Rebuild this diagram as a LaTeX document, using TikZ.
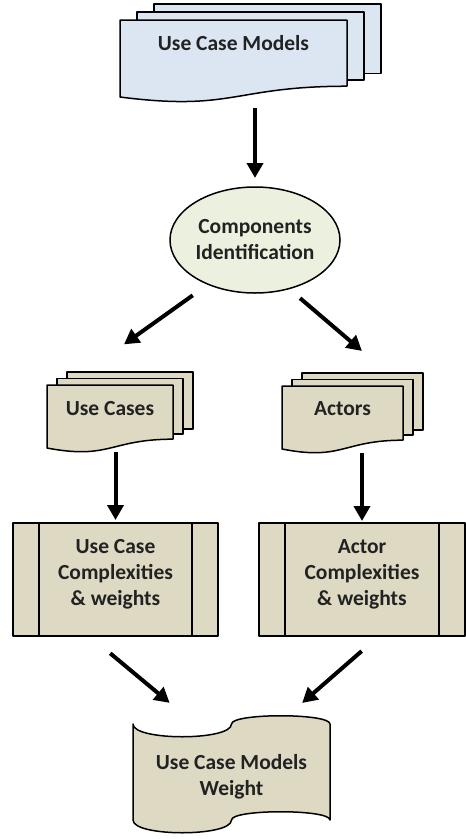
\documentclass[tikz,border=0pt]{standalone}
\usepackage{fontspec}
\setmainfont{Carlito}
\usetikzlibrary{arrows.meta,shapes.geometric,calc,backgrounds}

\definecolor{sheetblue}{HTML}{DCE6F2}
\definecolor{paleolive}{HTML}{EBF1DE}
\definecolor{parchment}{HTML}{DDD9C3}
\definecolor{ink}{HTML}{222222}

\tikzset{
  lbl/.style={font=\bfseries\fontsize{21.5}{26}\selectfont, text=ink, align=center},
  outline/.style={draw=black, line width=1.5pt, line join=round},
  body/.style={inner sep=0pt, outer sep=0pt},
  flow/.style={-{Triangle[length=15pt,width=16pt]}, line width=4pt},
}

% sheet with a wavy lower edge over the box of node #1
\newcommand{\docsheet}[2]{%
  \filldraw[outline, fill=#2] (#1.north west) -- (#1.north east)
    -- ($(#1.north east)!0.86!(#1.south east)$)
    .. controls ($(#1.north)!0.86!(#1.south)$) and ($(#1.north)!1.19!(#1.south)$) .. (#1.south west) -- cycle;}
% two more sheets sticking out behind it
\newcommand{\sheetstack}[4]{%
  \foreach \k in {2,1}
    \filldraw[outline, fill=#2] ([shift={(\k*#3,\k*#4)}]#1.north west)
      rectangle ($(#1.north east)!0.86!(#1.south east)+(\k*#3,\k*0.8*#4)$);
  \docsheet{#1}{#2}}
% punched tape: dip then hump on both long edges
\newcommand{\tapesheet}[2]{%
  \filldraw[outline, fill=#2] (#1.north west)
    .. controls +(0,-17) and ($(#1.north)+(0,-17)$) .. (#1.north)
    .. controls +(0,11) and ($(#1.north east)+(0,11)$) .. (#1.north east)
    -- (#1.south east)
    .. controls +(0,11) and ($(#1.south)+(0,11)$) .. (#1.south)
    .. controls +(0,-17) and ($(#1.south west)+(0,-17)$) .. (#1.south west) -- cycle;}
% side bars of a predefined process box
\newcommand{\sidebars}[1]{%
  \draw[outline] ([xshift=26pt]#1.north west) -- ([xshift=26pt]#1.south west)
                 ([xshift=-26pt]#1.north east) -- ([xshift=-26pt]#1.south east);}

\begin{document}
\begin{tikzpicture}[x=1pt, y=1pt]
\useasboundingbox (0,0) rectangle (466,-839);

\node[body, minimum width=227pt, minimum height=77pt,
      label={[lbl, yshift=15.5pt]center:Use Case Models}] (models) at (233.5,-58.5) {};
\node[body, ellipse, outline, fill=paleolive, minimum width=170pt, minimum height=106pt, lbl]
      (ident) at (255,-240) {Components\\Identification};
\node[body, minimum width=126pt, minimum height=63pt,
      label={[lbl, yshift=8pt]center:Use Cases}] (cases) at (110,-416.5) {};
\node[body, minimum width=121pt, minimum height=63pt,
      label={[lbl, yshift=9pt]center:Actors}] (actors) at (342.5,-417.5) {};
\node[body, outline, fill=parchment, minimum width=205pt, minimum height=113pt,
      label={[lbl, yshift=5.5pt]center:{Use Case\\Complexities\\\& weights}}] (ucw) at (115.5,-579.5) {};
\node[body, outline, fill=parchment, minimum width=206pt, minimum height=113pt,
      label={[lbl, yshift=5.5pt]center:{Actor\\Complexities\\\& weights}}] (acw) at (362,-579.5) {};
\node[body, minimum width=197pt, minimum height=96pt,
      label={[lbl, yshift=-4.5pt]center:{Use Case Models\\Weight}}] (weight) at (231.5,-772) {};

\begin{pgfonlayer}{background}
  \sheetstack{models}{sheetblue}{17}{8}
  \sheetstack{cases}{parchment}{10}{6.5}
  \sheetstack{actors}{parchment}{10}{6.5}
  \tapesheet{weight}{parchment}
\end{pgfonlayer}
\sidebars{ucw}
\sidebars{acw}

\draw[flow, shorten <=11pt, shorten >=9pt] (models.south -| ident.north) -- (ident.north);
\draw[flow, shorten <=4pt, shorten >=70pt] ([xshift=-59pt]ident.south) -- ([xshift=20pt]cases.north west);
\draw[flow, shorten <=8pt, shorten >=54pt] ([xshift=39pt]ident.south) -- (actors.north east);
\draw[flow, shorten <=4pt, shorten >=3pt] (cases.south -| ucw.north) -- (ucw.north);
\draw[flow, shorten <=4pt, shorten >=2pt] (actors.south -| acw.north) -- (acw.north);
\draw[flow, shorten <=27pt, shorten >=33pt] ([xshift=-26pt]ucw.south) -- ([xshift=62pt]weight.north west);
\draw[flow, shorten <=23pt, shorten >=32pt] ([xshift=17pt]acw.south) -- ([xshift=-52pt]weight.north east);
\end{tikzpicture}
\end{document}
